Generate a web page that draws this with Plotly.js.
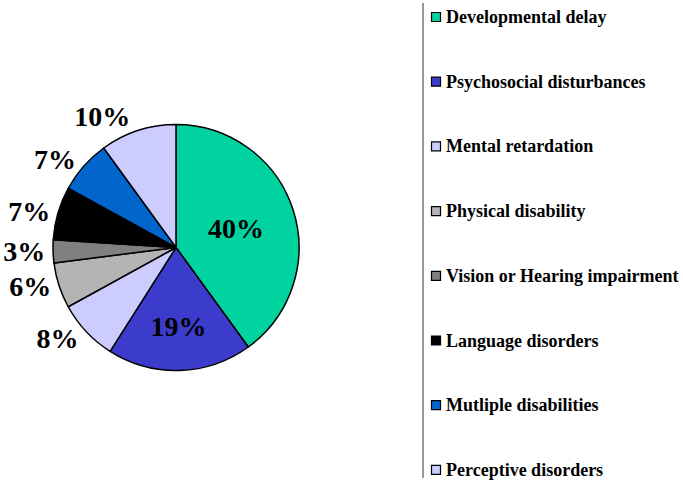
<!DOCTYPE html>
<html>
<head>
<meta charset="utf-8">
<script src="https://cdn.plot.ly/plotly-3.0.1.min.js"></script>
<style>html,body{margin:0;padding:0;background:#fff;}#chart{width:683px;height:483px;}</style>
</head>
<body>
<div id="chart"></div>
<script>
const categories = ["Developmental delay", "Psychosocial disturbances", "Mental retardation", "Physical disability", "Vision or Hearing impairment", "Language disorders", "Mutliple disabilities", "Perceptive disorders"];
const values = [40, 19, 8, 6, 3, 7, 7, 10];
const colors = ["#00D2A0", "#3C3CCC", "#CCCCFF", "#B4B4B4", "#808080", "#000000", "#0066CC", "#CCCCFF"];
const textPositions = ["inside", "inside", "outside", "outside", "outside", "outside", "outside", "outside"];

const W = 683, H = 483;
const serif = "Liberation Serif";

const trace = {
  type: "pie",
  labels: categories,
  values: values,
  sort: false,
  direction: "clockwise",
  rotation: 0,
  marker: {colors: colors, line: {color: "#000000", width: 1.5}},
  texttemplate: "%{percent:.0%}",
  textposition: textPositions,
  insidetextorientation: "horizontal",
  textfont: {family: serif, size: 28, color: "#000000", weight: "bold"},
  outsidetextfont: {family: serif, size: 28, color: "#000000", weight: "bold"},
  insidetextfont: {family: serif, size: 28, color: "#000000", weight: "bold"},
  showlegend: false,
  hoverinfo: "label+percent",
  domain: {x: [53 / W, 299 / W], y: [(H - 373) / H, (H - 122) / H]}
};

// Legend built from the categories/colors arrays
const shapes = [];
const annotations = [];
const legendTop = 17, legendStep = 64.7, legendX = 436, sq = 9;
categories.forEach((c, i) => {
  const cy = legendTop + i * legendStep;
  shapes.push({
    type: "rect", xref: "paper", yref: "paper",
    x0: (legendX - sq / 2) / W, x1: (legendX + sq / 2) / W,
    y0: (H - cy - sq / 2) / H, y1: (H - cy + sq / 2) / H,
    fillcolor: colors[i], line: {color: "#000000", width: 1.2}
  });
  annotations.push({
    xref: "paper", yref: "paper", x: 444 / W, y: (H - cy) / H,
    xanchor: "left", yanchor: "middle", showarrow: false,
    text: c,
    font: {family: serif, size: 18, color: "#000000", weight: "bold"}
  });
});
shapes.push({
  type: "line", xref: "paper", yref: "paper",
  x0: 423 / W, x1: 423 / W, y0: (H - 3) / H, y1: (H - 478) / H,
  line: {color: "#999999", width: 2}
});

const layout = {
  width: W, height: H,
  margin: {l: 0, r: 0, t: 0, b: 0},
  paper_bgcolor: "#ffffff",
  plot_bgcolor: "#ffffff",
  font: {family: serif},
  showlegend: false,
  shapes: shapes,
  annotations: annotations
};

Plotly.newPlot("chart", [trace], layout, {displayModeBar: false, staticPlot: true});
</script>
</body>
</html>
